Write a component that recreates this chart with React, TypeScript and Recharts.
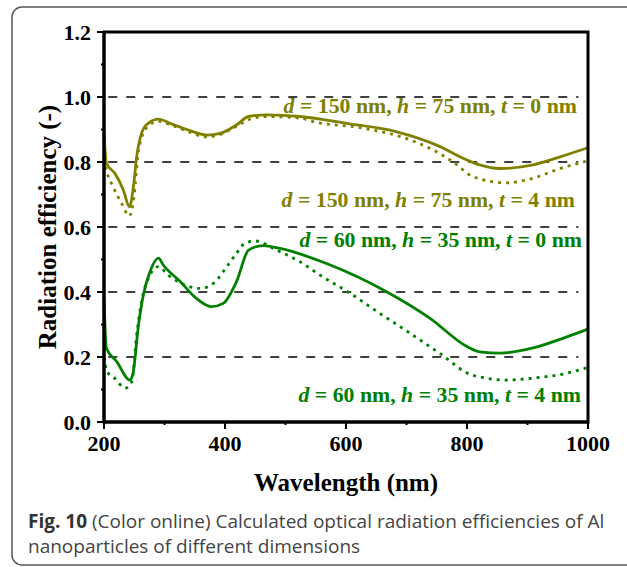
import React from "react";
import { LineChart, Line, XAxis, YAxis, ReferenceLine } from "recharts";

// wavelength (nm) / radiation efficiency
const olive0X = [200, 204, 218, 232, 242, 248, 254, 262, 273, 290, 309, 337, 370, 392, 419, 439, 469, 524, 601, 684, 750, 800, 821, 855, 909, 954, 1000];
const olive0Y = [0.888, 0.796, 0.765, 0.714, 0.662, 0.714, 0.816, 0.888, 0.919, 0.932, 0.919, 0.9, 0.883, 0.888, 0.914, 0.94, 0.945, 0.94, 0.919, 0.893, 0.852, 0.806, 0.791, 0.78, 0.791, 0.816, 0.844];

const olive4X = [200, 204, 215, 229, 242, 250, 256, 262, 273, 290, 309, 337, 370, 392, 419, 439, 469, 524, 546, 629, 706, 744, 777, 810, 866, 909, 954, 1000];
const olive4Y = [0.81, 0.775, 0.724, 0.673, 0.634, 0.7, 0.82, 0.875, 0.91, 0.925, 0.915, 0.895, 0.877, 0.885, 0.91, 0.93, 0.94, 0.935, 0.924, 0.904, 0.868, 0.837, 0.8, 0.755, 0.736, 0.75, 0.78, 0.804];

const green0X = [200, 204, 221, 243, 248, 257, 265, 276, 290, 298, 326, 353, 378, 397, 419, 439, 463, 491, 574, 667, 739, 800, 821, 855, 909, 965, 1000];
const green0Y = [0.38, 0.227, 0.186, 0.129, 0.15, 0.298, 0.39, 0.462, 0.504, 0.483, 0.432, 0.38, 0.355, 0.365, 0.432, 0.529, 0.543, 0.534, 0.483, 0.401, 0.319, 0.232, 0.216, 0.212, 0.228, 0.262, 0.286];

const green4X = [200, 205, 218, 235, 246, 254, 262, 276, 290, 306, 342, 361, 381, 405, 419, 433, 450, 485, 524, 557, 607, 656, 706, 755, 808, 866, 909, 965, 1000];
const green4Y = [0.2, 0.155, 0.134, 0.104, 0.124, 0.268, 0.37, 0.452, 0.478, 0.452, 0.416, 0.411, 0.427, 0.483, 0.519, 0.55, 0.557, 0.529, 0.493, 0.452, 0.396, 0.334, 0.273, 0.211, 0.145, 0.129, 0.135, 0.15, 0.168];

const xTicks = [200, 300, 400, 500, 600, 700, 800, 900, 1000];
const yTicks = [0, 0.1, 0.2, 0.3, 0.4, 0.5, 0.6, 0.7, 0.8, 0.9, 1.0, 1.1, 1.2];
const gridLevels = [0.2, 0.4, 0.6, 0.8, 1.0];

const toRows = (xs: number[], ys: number[]) => xs.map((x, i) => ({ x, y: ys[i] }));

const OLIVE = "#808000";
const GREEN = "#008000";
const SERIF = "'Liberation Serif', 'Times New Roman', serif";

const W = 627;
const H = 567;
const MARGIN = { top: 32, right: 39, bottom: 105, left: 44 };
const Y_AXIS_W = 60;
const X_AXIS_H = 40;
// plot box, derived from the margins above
const PLOT = {
  x: MARGIN.left + Y_AXIS_W,
  y: MARGIN.top,
  w: W - MARGIN.left - Y_AXIS_W - MARGIN.right,
  h: H - MARGIN.top - MARGIN.bottom - X_AXIS_H,
};

const XTick = (props: any) => {
  const { x, y, payload } = props;
  const major = payload.value % 200 === 0;
  return (
    <g>
      <line x1={x} x2={x} y1={y} y2={y + (major ? 7 : 3)} stroke="#000" strokeWidth={2} />
      {major && (
        <text x={x} y={y + 29} textAnchor="middle" fontFamily={SERIF} fontWeight="bold" fontSize={22} fill="#000">
          {payload.value}
        </text>
      )}
    </g>
  );
};

const YTick = (props: any) => {
  const { x, y, payload } = props;
  const major = Math.round(payload.value * 10) % 2 === 0;
  return (
    <g>
      <line x1={x} x2={x - (major ? 7 : 3)} y1={y} y2={y} stroke="#000" strokeWidth={2} />
      {major && (
        <text x={x - 13} y={y + 8} textAnchor="end" fontFamily={SERIF} fontWeight="bold" fontSize={22} fill="#000">
          {payload.value.toFixed(1)}
        </text>
      )}
    </g>
  );
};

function Annot({ x, y, color, d, h, t }: { x: number; y: number; color: string; d: string; h: string; t: string }) {
  return (
    <text x={x} y={y} textAnchor="end" fontFamily={SERIF} fontWeight="bold" fontSize={21.8} fill={color}>
      <tspan fontStyle="italic">d</tspan>
      {` = ${d} nm, `}
      <tspan fontStyle="italic">h</tspan>
      {` = ${h} nm, `}
      <tspan fontStyle="italic">t</tspan>
      {` = ${t} nm`}
    </text>
  );
}

export default function App() {
  return (
    <div style={{ position: "absolute", left: 0, top: 0, width: W, height: H, background: "#fff", overflow: "hidden" }}>
      <LineChart width={W} height={H} margin={MARGIN}>
        <XAxis
          type="number"
          dataKey="x"
          domain={[200, 1000]}
          ticks={xTicks}
          height={X_AXIS_H}
          tickSize={0}
          tickMargin={0}
          tickLine={false}
          axisLine={{ stroke: "#000", strokeWidth: 3 }}
          tick={<XTick />}
          interval={0}
          allowDuplicatedCategory={false}
        />
        <YAxis
          type="number"
          domain={[0, 1.2]}
          ticks={yTicks}
          width={Y_AXIS_W}
          tickSize={0}
          tickMargin={0}
          tickLine={false}
          axisLine={{ stroke: "#000", strokeWidth: 3 }}
          tick={<YTick />}
          interval={0}
        />
        {gridLevels.map((g) => (
          <ReferenceLine
            key={g}
            segment={[{ x: 207, y: g }, { x: 984, y: g }]}
            stroke="#000"
            strokeWidth={1.5}
            strokeDasharray="9 9"
          />
        ))}
        <Line data={toRows(olive0X, olive0Y)} dataKey="y" type="monotone" stroke={OLIVE} strokeWidth={2.8} dot={false} isAnimationActive={false} />
        <Line data={toRows(olive4X, olive4Y)} dataKey="y" type="monotone" stroke={OLIVE} strokeWidth={2.8} strokeDasharray="3 5" dot={false} isAnimationActive={false} />
        <Line data={toRows(green0X, green0Y)} dataKey="y" type="monotone" stroke={GREEN} strokeWidth={2.8} dot={false} isAnimationActive={false} />
        <Line data={toRows(green4X, green4Y)} dataKey="y" type="monotone" stroke={GREEN} strokeWidth={2.8} strokeDasharray="3 5" dot={false} isAnimationActive={false} />
      </LineChart>
      <svg width={W} height={H} style={{ position: "absolute", left: 0, top: 0, pointerEvents: "none" }}>
        <rect x={12} y={7} width={640} height={558} rx={10} fill="none" stroke="#555" strokeWidth={1.5} />
        <rect x={PLOT.x} y={PLOT.y} width={PLOT.w} height={PLOT.h} fill="none" stroke="#000" strokeWidth={3} />
        <Annot x={577} y={113} color={OLIVE} d="150" h="75" t="0" />
        <Annot x={575} y={207} color={OLIVE} d="150" h="75" t="4" />
        <Annot x={582} y={247} color={GREEN} d="60" h="35" t="0" />
        <Annot x={581} y={402} color={GREEN} d="60" h="35" t="4" />
        <text x={346} y={491} textAnchor="middle" fontFamily={SERIF} fontWeight="bold" fontSize={25} fill="#000">
          Wavelength (nm)
        </text>
        <text
          transform="translate(56 227) rotate(-90)"
          textAnchor="middle"
          fontFamily={SERIF}
          fontWeight="bold"
          fontSize={25}
          fill="#000"
        >
          Radiation efficiency (-)
        </text>
        <text x={28} y={528} fontFamily="'Open Sans', sans-serif" fontSize={19} fill="#444">
          <tspan fontWeight="bold" fill="#333">Fig. 10</tspan> (Color online) Calculated optical radiation efficiencies of Al
        </text>
        <text x={28} y={553} fontFamily="'Open Sans', sans-serif" fontSize={19} fill="#444">
          nanoparticles of different dimensions
        </text>
      </svg>
    </div>
  );
}
